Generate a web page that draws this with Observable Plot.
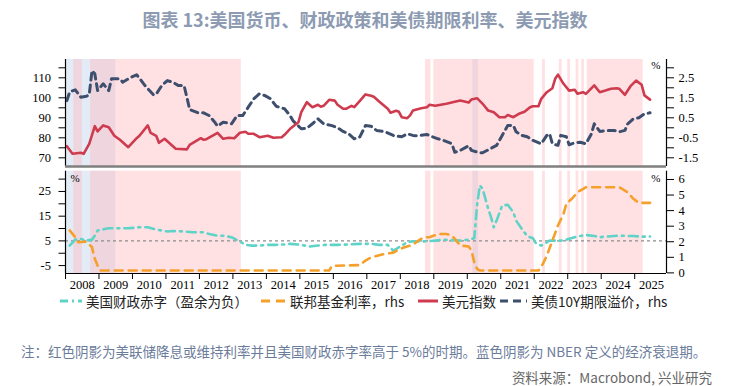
<!DOCTYPE html>
<html><head><meta charset="utf-8">
<script src="https://cdn.jsdelivr.net/npm/d3@7"></script>
<script src="https://cdn.jsdelivr.net/npm/@observablehq/plot@0.6"></script>
<style>
body{margin:0;background:#fff;width:730px;height:386px;position:relative;overflow:hidden;font-family:"Noto Sans CJK SC","Noto Sans",sans-serif}
#title{position:absolute;left:0;top:7px;width:730px;text-align:center;font-size:18px;line-height:24px;font-weight:bold;color:#8d9bb2}
#top{position:absolute;left:0;top:45px}
#bot{position:absolute;left:0;top:168px}
.lg{position:absolute;top:292px;height:18px;display:flex;align-items:center;font-size:13.5px;color:#222;white-space:nowrap}
.lg svg{margin-right:4px}
#note{position:absolute;left:21px;top:341px;font-size:13.5px;line-height:20px;color:#6b7c9b;white-space:nowrap}
#src{position:absolute;right:18px;top:367px;font-size:13.5px;line-height:20px;color:#666;white-space:nowrap}
</style></head><body>
<div id="title">图表 13:美国货币、财政政策和美债期限利率、美元指数</div>
<div id="top"></div>
<div id="bot"></div>
<div id="legend"></div>
<div id="note">注：红色阴影为美联储降息或维持利率并且美国财政赤字率高于 5%的时期。蓝色阴影为 NBER 定义的经济衰退期。</div>
<div id="src">资料来源：Macrobond, 兴业研究</div>
<script>
// ---------- data ----------
const years = [2008,2009,2010,2011,2012,2013,2014,2015,2016,2017,2018,2019,2020,2021,2022,2023,2024,2025];

// 美元指数 (left axis, top panel)
const dollarIndex = [
["2008-01",75.8],["2008-03",72],["2008-06",72.5],["2008-07",72],["2008-09",77],["2008-11",85.8],["2008-12",83.2],
["2009-02",86.2],["2009-04",85.3],["2009-06",81],["2009-08",79],["2009-11",75.3],
["2010-02",79.8],["2010-03",81],["2010-06",86.2],["2010-07",82.5],["2010-09",81],["2010-10",77.5],["2010-12",79.5],
["2011-02",77],["2011-04",74.5],["2011-08",74.2],["2011-09",76.5],
["2012-01",79.8],["2012-02",79],["2012-03",79.3],["2012-07",82.5],["2012-09",79.5],["2012-11",80],
["2013-01",79.8],["2013-03",82.5],["2013-05",83],["2013-06",82],["2013-08",82],["2013-10",80.3],
["2014-01",81],["2014-03",80],["2014-06",80.3],["2014-07",81.5],["2014-09",84.5],["2014-12",87.8],
["2015-01",92.8],["2015-03",97.8],["2015-05",95.3],["2015-07",96.5],["2015-08",95.5],["2015-09",96],["2015-11",99],
["2016-01",98.6],["2016-02",96.5],["2016-04",94.5],["2016-05",94.5],["2016-07",96],["2016-08",95.3],["2016-10",98.5],["2016-12",101.7],
["2017-02",101],["2017-03",100.5],["2017-05",98],["2017-08",94.5],["2017-09",92.5],["2017-11",93.5],["2017-12",93],
["2018-01",90.3],["2018-03",89.8],["2018-04",91.2],["2018-05",93.6],["2018-08",94.8],["2018-10",95.3],["2018-11",96.5],
["2019-01",96],["2019-03",96.5],["2019-05",97],["2019-08",98],["2019-10",98.6],
["2020-01",97.6],["2020-02",99.2],["2020-04",99.8],["2020-06",97],["2020-08",93.6],["2020-10",92.8],["2020-12",90.3],
["2021-02",90.3],["2021-03",91.4],["2021-05",90.3],["2021-07",92],["2021-09",93],["2021-11",95.3],["2021-12",95.8],
["2022-02",95.8],["2022-03",99.5],["2022-05",102.8],["2022-07",104.8],["2022-08",109.5],["2022-09",111.6],["2022-11",107],
["2023-01",103.6],["2023-03",104],["2023-04",102],["2023-06",102.8],["2023-07",102],["2023-10",106.2],["2023-12",102.8],
["2024-02",103.6],["2024-04",104.5],["2024-06",104.8],["2024-07",104.5],["2024-09",101.5],["2024-11",105.8],
["2025-01",108.6],["2025-03",106.5],["2025-04",101.2],["2025-06",99.1]
];

// 美债10Y期限溢价, rhs (%), top panel
const termPremium = [
["2008-01",1.36],["2008-02",1.8],["2008-04",1.9],["2008-06",1.53],["2008-08",1.58],["2008-09",1.65],["2008-10",2.86],["2008-11",2.7],["2008-12",1.86],
["2009-02",2.2],["2009-04",1.86],["2009-05",2.45],["2009-08",2.45],["2009-09",2.28],["2009-12",2.53],
["2010-02",2.65],["2010-03",2.48],["2010-05",2.11],["2010-08",1.65],["2010-09",1.68],["2010-11",2.11],
["2011-01",2.36],["2011-03",2.28],["2011-05",2.11],["2011-07",2.11],["2011-08",1.53],["2011-09",0.91],["2011-12",0.75],
["2012-02",0.75],["2012-04",0.61],["2012-06",0.28],["2012-07",0.08],["2012-09",0.28],["2012-12",0.2],
["2013-02",0.61],["2013-04",0.61],["2013-06",1.03],["2013-08",1.45],["2013-10",1.7],["2013-12",1.61],
["2014-02",1.45],["2014-04",1.08],["2014-07",0.95],["2014-09",0.61],["2014-10",0.36],
["2015-01",-0.05],["2015-03",-0.02],["2015-05",0.2],["2015-07",0.45],["2015-09",0.2],["2015-12",0.11],
["2016-02",0],["2016-04",-0.18],["2016-06",-0.3],["2016-08",-0.55],["2016-10",-0.45],["2016-12",0.11],
["2017-02",0.08],["2017-04",-0.13],["2017-07",-0.2],["2017-10",-0.38],
["2018-01",-0.45],["2018-03",-0.3],["2018-05",-0.38],["2018-07",-0.4],["2018-10",-0.33],["2018-12",-0.45],
["2019-02",-0.55],["2019-04",-0.63],["2019-07",-0.8],["2019-08",-1.22],["2019-10",-1.13],
["2020-01",-0.9],["2020-02",-1.13],["2020-05",-1.25],["2020-06",-1.25],["2020-08",-1.1],["2020-11",-0.88],
["2021-01",-0.38],["2021-03",0.11],["2021-05",0.12],["2021-06",-0.2],["2021-08",-0.38],["2021-10",-0.45],["2021-12",-0.63],
["2022-03",-0.8],["2022-05",-0.38],["2022-06",-0.3],["2022-07",-0.8],["2022-09",-0.88],["2022-10",-0.38],["2022-12",-0.45],
["2023-01",-0.85],["2023-03",-0.75],["2023-05",-0.72],["2023-07",-0.8],["2023-09",-0.3],["2023-10",0.2],["2023-12",-0.18],
["2024-03",-0.13],["2024-05",-0.13],["2024-07",-0.2],["2024-09",-0.13],["2024-10",0.2],["2024-12",0.45],
["2025-02",0.5],["2025-04",0.7],["2025-06",0.75]
];

// 美国财政赤字（盈余为负）(% , left axis, bottom panel)
const fiscalDeficit = [
["2008-02",3.1],["2008-04",5.5],["2008-06",5.8],["2008-08",5.1],["2008-10",5.5],["2008-11",7.1],["2008-12",9.2],
["2009-04",10.1],["2009-07",10.1],["2009-11",10.1],
["2010-03",10.5],["2010-06",10.5],["2010-09",9.6],
["2011-01",8.8],["2011-03",9],["2011-07",8.8],["2011-10",8.5],
["2012-02",8.5],["2012-04",7.8],["2012-07",7.1],["2012-09",7.1],["2012-12",6.5],
["2013-03",4.7],["2013-05",3.4],["2013-07",3.1],["2013-10",3.1],
["2014-01",3.4],["2014-04",3.4],["2014-08",3.6],["2014-09",3.8],
["2015-01",3.4],["2015-04",2.7],["2015-07",3.1],["2015-10",3.4],
["2016-02",3.4],["2016-05",3.5],["2016-10",3.8],
["2017-02",3.8],["2017-05",3.4],["2017-08",3.4],["2017-10",1.0],
["2018-01",3.1],["2018-03",4.5],["2018-05",4.8],["2018-09",4.8],
["2019-01",5.1],["2019-04",5.5],["2019-07",5.3],["2019-10",5.1],
["2020-01",5.5],["2020-03",6.1],["2020-04",19.3],["2020-05",27.4],["2020-06",26.1],["2020-07",22],["2020-08",18],["2020-09",14.6],["2020-10",10.5],["2020-11",13.2],
["2021-01",19.3],["2021-03",19.6],["2021-05",16.6],["2021-06",13.2],["2021-08",9.9],["2021-10",6.9],["2021-12",6.1],
["2022-01",4.2],["2022-03",3.1],["2022-04",3.8],["2022-06",5.1],["2022-07",5.1],["2022-10",5.1],["2022-12",5.5],
["2023-03",6.5],["2023-05",7],["2023-07",7.4],["2023-10",7],["2023-12",6.5],
["2024-03",6.8],["2024-05",7],["2024-07",7.1],["2024-10",7],["2024-12",7],
["2025-03",6.7],["2025-06",6.8]
];

// 联邦基金利率, rhs (%), bottom panel
const fedFunds = [
["2008-02",2.73],["2008-04",2.29],["2008-05",1.97],["2008-08",2.0],["2008-10",1.65],["2008-11",0.9],["2008-12",0.47],
["2009-01",0.15],["2015-11",0.15],["2015-12",0.45],
["2016-10",0.5],["2016-12",0.79],
["2017-02",1.0],["2017-07",1.22],["2017-10",1.3],["2017-12",1.5],
["2018-02",1.65],["2018-05",1.8],["2018-07",2.08],["2018-09",2.29],["2018-11",2.29],
["2019-02",2.5],["2019-05",2.5],["2019-07",2.4],["2019-08",2.19],["2019-10",1.76],
["2020-01",1.7],["2020-02",1.43],["2020-03",0.68],["2020-04",0.26],["2020-05",0.15],
["2022-02",0.15],["2022-03",0.36],["2022-05",1.1],["2022-07",2.08],["2022-09",3.04],["2022-11",3.8],["2022-12",4.44],
["2023-02",4.76],["2023-04",5.18],["2023-07",5.5],
["2024-07",5.5],["2024-10",5.18],["2024-12",4.76],
["2025-02",4.5],["2025-06",4.5]
];

// shading periods [first month, last month]
const redPeriods = [
["2008-04","2008-06"],["2008-10","2013-03"],["2018-10","2018-11"],["2019-01","2021-12"],
["2022-04","2022-04"],["2022-10","2022-10"],["2023-01","2023-01"],["2023-04","2023-04"],
["2023-06","2023-06"],["2023-08","2025-03"]
];
const nberPeriods = [["2008-01","2009-06"],["2020-03","2020-04"]];

// axis ticks
const topLeftTicks = [70,75,80,85,90,95,100,105,110,115];
const topLeftLabels = [70,80,90,100,110];
const topRightLabels = [-1.5,-0.5,0.5,1.5,2.5];
const botLeftTicks = [-5,0,5,10,15,20,25,30];
const botLeftLabels = [-5,5,15,25];
const botRightTicks = [0,1,2,3,4,5,6];
const deficitThreshold = 5;

// ---------- helpers ----------
const ym = s => s.split("-").map(Number);
const tMid = s => { const [y,m] = ym(s); return y + (m - 0.5) / 12; };
const tStart = s => { const [y,m] = ym(s); return y + (m - 1) / 12; };
const tEnd = s => { const [y,m] = ym(s); return y + m / 12; };
const topRhs = r => 10 * r + 85;        // rhs % -> left index scale (top)
const topRhsInv = v => (v - 85) / 10;
const botRhs = r => 6.3 * r - 7.95;     // rhs % -> left % scale (bottom)
const botRhsInv = v => (v + 7.95) / 6.3;

const xDomain = [2008, 2025.95];
const topDomain = [65.65, 119.15];
const botDomain = [-8.2, 33.2];

const C = {
  red: "#cf3b4e", navy: "#3e4f6e", cyan: "#5fd3c7", orange: "#f5a02a",
  pink: "#ffb3bb", blue: "#e3ebf6"
};

const shade = () => [
  Plot.rect(nberPeriods, {x1: d => tStart(d[0]), x2: d => tEnd(d[1]), fill: C.blue}),
  Plot.rect(redPeriods, {x1: d => tStart(d[0]), x2: d => tEnd(d[1]), fill: C.pink, fillOpacity: 0.4})
];

const common = {
  width: 730, marginLeft: 65, marginRight: 64,
  x: {type: "linear", domain: xDomain, axis: null},
  style: {fontFamily: "'Liberation Serif', 'Times New Roman', serif", fontSize: "12.5px", color: "#000", background: "transparent", overflow: "visible"}
};

const topPlot = Plot.plot({
  ...common,
  height: 123, marginTop: 14, marginBottom: 2,
  y: {domain: topDomain, axis: null},
  marks: [
    ...shade(),
    Plot.line(termPremium, {x: d => tMid(d[0]), y: d => topRhs(d[1]), stroke: C.navy, strokeWidth: 3, strokeDasharray: "7,5"}),
    Plot.line(dollarIndex, {x: d => tMid(d[0]), y: d => d[1], stroke: C.red, strokeWidth: 2.6}),
    Plot.axisY(topLeftTicks, {anchor: "left", tickSize: 6.5, tickPadding: 8, tickFormat: d => topLeftLabels.includes(d) ? String(d) : ""}),
    Plot.axisY(topLeftTicks, {anchor: "right", tickSize: 7, tickPadding: 5, tickFormat: d => topRightLabels.includes(topRhsInv(d)) ? topRhsInv(d).toFixed(1) : ""}),
    Plot.ruleX(xDomain, {stroke: "#000", strokeWidth: 1.2}),
    Plot.ruleY([topDomain[0]], {stroke: "#7f7f7f", strokeWidth: 2.6}),
    Plot.text(["%"], {frameAnchor: "top-right", dx: -6, dy: 2, fontSize: 11})
  ]
});

const botPlot = Plot.plot({
  ...common,
  height: 125, marginTop: 2.7, marginBottom: 20,
  y: {domain: botDomain, axis: null},
  marks: [
    ...shade(),
    Plot.ruleY([deficitThreshold], {stroke: "#8d8d8d", strokeWidth: 1.2, strokeDasharray: "3,3"}),
    Plot.line(fiscalDeficit, {x: d => tMid(d[0]), y: d => d[1], stroke: C.cyan, strokeWidth: 2.6, strokeDasharray: "9,5,2,5"}),
    Plot.line(fedFunds, {x: d => tMid(d[0]), y: d => botRhs(d[1]), stroke: C.orange, strokeWidth: 2.6, strokeDasharray: "8,6"}),
    Plot.axisY(botLeftTicks, {anchor: "left", tickSize: 6.5, tickPadding: 8, tickFormat: d => botLeftLabels.includes(d) ? String(d) : ""}),
    Plot.axisY(botRightTicks.map(botRhs), {anchor: "right", tickSize: 7, tickPadding: 5, tickFormat: d => String(Math.round(botRhsInv(d)))}),
    Plot.axisX(years, {anchor: "bottom", tickSize: 6, tickFormat: () => ""}),
    Plot.axisX(years.map(y => y + 0.5), {anchor: "bottom", tickSize: 0, tickPadding: 7, tickFormat: d => String(Math.floor(d))}),
    Plot.ruleX(xDomain, {stroke: "#000", strokeWidth: 1.2}),
    Plot.ruleY([botDomain[0]], {stroke: "#000", strokeWidth: 1.2}),
    Plot.text(["%"], {frameAnchor: "top-left", dx: 5, dy: 3, fontSize: 11}),
    Plot.text(["%"], {frameAnchor: "top-right", dx: -6, dy: 3, fontSize: 11})
  ]
});

document.getElementById("top").append(topPlot);
document.getElementById("bot").append(botPlot);

// ---------- legend ----------
const legendItems = [
  {label: "美国财政赤字（盈余为负）", color: C.cyan, dash: "8,4,2,4", left: 60, w: 22},
  {label: "联邦基金利率，rhs", color: C.orange, dash: "9,6", left: 261, w: 25},
  {label: "美元指数", color: C.red, dash: null, left: 418, w: 20},
  {label: "美债10Y期限溢价，rhs", color: C.navy, dash: "8,5", left: 500, w: 27}
];
const lg = document.getElementById("legend");
for (const it of legendItems) {
  const div = document.createElement("div");
  div.className = "lg";
  div.style.left = it.left + "px";
  div.innerHTML = `<svg width="${it.w}" height="10"><line x1="0" x2="${it.w}" y1="5" y2="5" stroke="${it.color}" stroke-width="3" ${it.dash ? `stroke-dasharray="${it.dash}"` : ""}/></svg><span>${it.label}</span>`;
  lg.append(div);
}
</script>
</body></html>
